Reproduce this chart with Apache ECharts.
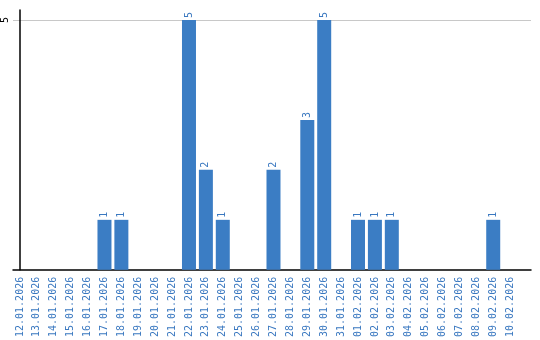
<!DOCTYPE html>
<html><head><meta charset="utf-8">
<script src="https://cdn.jsdelivr.net/npm/echarts@6/dist/echarts.min.js"></script>
<style>html,body{margin:0;padding:0;background:#fff}#c{width:540px;height:340px}</style>
</head><body><div id="c"></div>
<script>
const categories = ['12.01.2026','13.01.2026','14.01.2026','15.01.2026','16.01.2026','17.01.2026','18.01.2026','19.01.2026','20.01.2026','21.01.2026','22.01.2026','23.01.2026','24.01.2026','25.01.2026','26.01.2026','27.01.2026','28.01.2026','29.01.2026','30.01.2026','31.01.2026','01.02.2026','02.02.2026','03.02.2026','04.02.2026','05.02.2026','06.02.2026','07.02.2026','08.02.2026','09.02.2026','10.02.2026'];
const counts = [null,null,null,null,null,1,1,null,null,null,5,2,1,null,null,2,null,3,5,null,1,1,1,null,null,null,null,null,1,null];
const yTicks = [5];

const blue = '#3b7dc4';
const labelBlue = '#3a78c0';
const font = 'DejaVu Sans Mono';
const chart = echarts.init(document.getElementById('c'), null, {renderer:'canvas'});
const idx = categories.map((c,i)=>i);
chart.setOption({
  animation:false,
  grid:{left:10,right:9,top:10,bottom:70,containLabel:false},
  xAxis:{type:'value',min:-0.4118,max:30.235,
    axisLine:{show:true,onZero:false,lineStyle:{color:'#000',width:1.5}},
    axisTick:{show:false,customValues:idx},
    splitLine:{show:false},
    axisLabel:{customValues:idx,rotate:90,margin:7,color:labelBlue,fontFamily:font,fontSize:10,
      formatter:v=>categories[Math.round(v)]||''}
  },
  yAxis:{type:'value',min:0,max:5.2,
    axisLine:{show:true,lineStyle:{color:'#000',width:1.5}},
    axisTick:{show:false,customValues:yTicks},
    splitLine:{show:true,lineStyle:{color:'#c8c8c8',width:1}},
    axisLabel:{customValues:yTicks,rotate:90,margin:3,align:'center',verticalAlign:'bottom',
      color:'#000',fontFamily:font,fontSize:10}
  },
  series:[{type:'bar',barWidth:14,
    data:counts.map((v,i)=>[i,v]),
    itemStyle:{color:blue},
    label:{show:true,position:'top',rotate:90,align:'left',verticalAlign:'middle',distance:2,
      color:labelBlue,fontFamily:font,fontSize:10,formatter:p=>p.value[1]}
  }]
});
</script></body></html>
